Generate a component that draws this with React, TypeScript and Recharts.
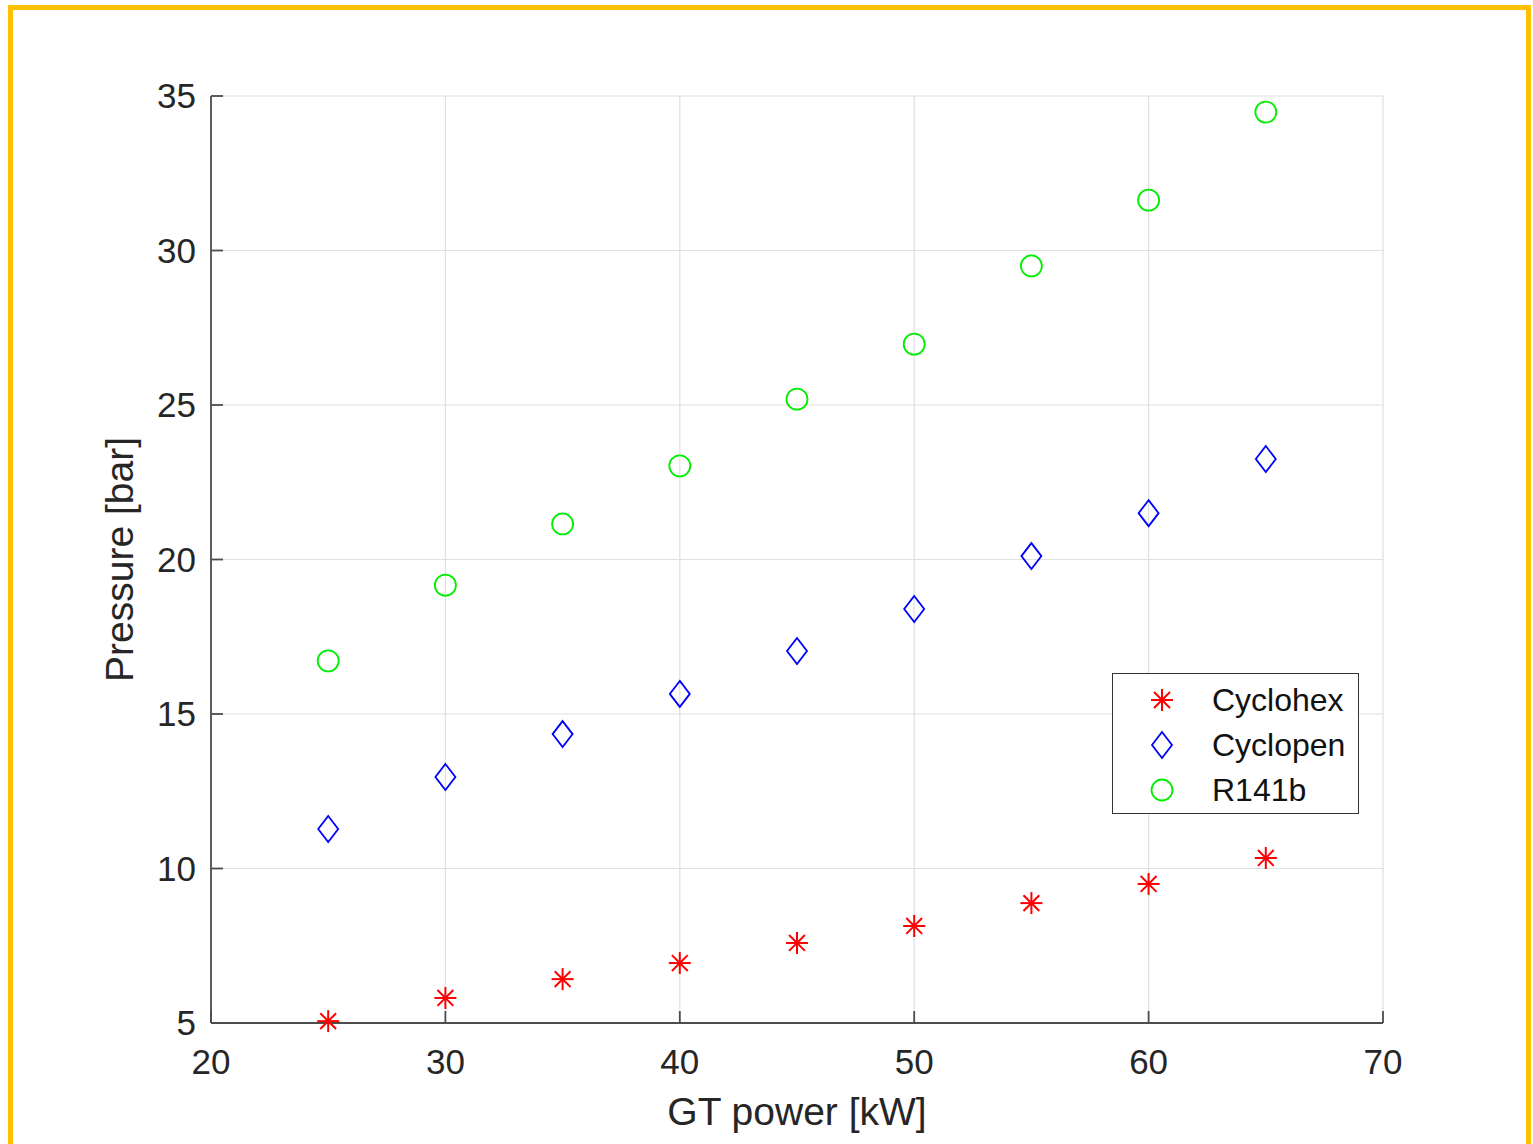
import React from "react";
import { ScatterChart, Scatter, XAxis, YAxis, CartesianGrid, Legend } from "recharts";

const gtPower = [25, 30, 35, 40, 45, 50, 55, 60, 65];
const cyclohex = [5.06, 5.81, 6.42, 6.94, 7.59, 8.14, 8.88, 9.5, 10.34];
const cyclopen = [11.28, 12.96, 14.35, 15.65, 17.04, 18.4, 20.11, 21.5, 23.25];
const r141b = [16.72, 19.17, 21.15, 23.03, 25.19, 26.97, 29.5, 31.63, 34.48];

const xTicks = [20, 30, 40, 50, 60, 70];
const yTicks = [5, 10, 15, 20, 25, 30, 35];

const FONT = '"Liberation Sans", Arial, Helvetica, sans-serif';
const AXIS = "#4d4d4d";
const TEXT = "#262626";

const toPoints = (ys: number[]) => gtPower.map((x, i) => ({ x, y: ys[i] }));

function Star({ cx, cy, r = 11 }: { cx: number; cy: number; r?: number }) {
  const d = r * 0.72;
  return (
    <g stroke="#ff0000" strokeWidth={2}>
      <line x1={cx} y1={cy - r} x2={cx} y2={cy + r} />
      <line x1={cx - r} y1={cy} x2={cx + r} y2={cy} />
      <line x1={cx - d} y1={cy - d} x2={cx + d} y2={cy + d} />
      <line x1={cx - d} y1={cy + d} x2={cx + d} y2={cy - d} />
    </g>
  );
}

function Diamond({ cx, cy }: { cx: number; cy: number }) {
  return (
    <polygon
      points={`${cx},${cy - 13} ${cx + 10},${cy} ${cx},${cy + 13} ${cx - 10},${cy}`}
      fill="none"
      stroke="#0000ff"
      strokeWidth={1.8}
    />
  );
}

function Ring({ cx, cy }: { cx: number; cy: number }) {
  return <circle cx={cx} cy={cy} r={10.5} fill="none" stroke="#00ee00" strokeWidth={1.8} />;
}

const legendItems = [
  { name: "Cyclohex", Mark: Star },
  { name: "Cyclopen", Mark: Diamond },
  { name: "R141b", Mark: Ring },
];

function LegendBox() {
  return (
    <div
      style={{
        width: 247,
        height: 141,
        border: "1.5px solid #333",
        background: "#fff",
        boxSizing: "border-box",
        fontFamily: FONT,
        fontSize: 32,
        color: "#111",
      }}
    >
      {legendItems.map(({ name, Mark }, i) => (
        <div key={name} style={{ position: "absolute", left: 0, top: 27 + i * 45 - 22, height: 44, display: "flex", alignItems: "center" }}>
          <svg width={100} height={44} style={{ display: "block" }}>
            <Mark cx={50} cy={22} />
          </svg>
          <span>{name}</span>
        </div>
      ))}
    </div>
  );
}

export default function App() {
  return (
    <div style={{ position: "absolute", left: 0, top: 0, width: 1533, height: 1144, background: "#fff", overflow: "hidden" }}>
      <div
        style={{
          position: "absolute",
          left: 8,
          top: 5,
          width: 1523,
          height: 1160,
          border: "5px solid #ffc000",
          boxSizing: "border-box",
        }}
      />
      <ScatterChart width={1533} height={1144} margin={{ top: 96, right: 150, bottom: 0, left: 131 }} style={{ fontFamily: FONT }}>
        <CartesianGrid stroke="#e0e0e0" strokeWidth={1.2} />
        <XAxis
          type="number"
          dataKey="x"
          domain={[20, 70]}
          ticks={xTicks}
          height={121}
          tickSize={-12}
          tickMargin={38}
          axisLine={{ stroke: AXIS, strokeWidth: 1.8 }}
          tickLine={{ stroke: AXIS, strokeWidth: 1.8 }}
          tick={{ fill: TEXT, fontSize: 35, fontFamily: FONT }}
          label={{ value: "GT power [kW]", position: "insideBottom", offset: 19, fill: TEXT, fontSize: 39, fontFamily: FONT }}
        />
        <YAxis
          type="number"
          dataKey="y"
          domain={[5, 35]}
          ticks={yTicks}
          width={80}
          tickSize={-12}
          tickMargin={27}
          axisLine={{ stroke: AXIS, strokeWidth: 1.8 }}
          tickLine={{ stroke: AXIS, strokeWidth: 1.8 }}
          tick={{ fill: TEXT, fontSize: 35, fontFamily: FONT }}
          label={{
            content: ({ viewBox }: any) => {
              const cy = viewBox.y + viewBox.height / 2;
              return (
                <text
                  transform={`translate(133, ${cy}) rotate(-90)`}
                  textAnchor="middle"
                  fill={TEXT}
                  fontSize={39}
                  fontFamily={FONT}
                >
                  Pressure [bar]
                </text>
              );
            },
          }}
        />
        <Legend
          layout="horizontal"
          verticalAlign="middle"
          align="center"
          content={() => <LegendBox />}
          wrapperStyle={{ left: 1112, top: 673, width: 247, height: 141 }}
        />
        <Scatter name="Cyclohex" data={toPoints(cyclohex)} shape={(p: any) => <Star cx={p.cx} cy={p.cy} />} isAnimationActive={false} />
        <Scatter name="Cyclopen" data={toPoints(cyclopen)} shape={(p: any) => <Diamond cx={p.cx} cy={p.cy} />} isAnimationActive={false} />
        <Scatter name="R141b" data={toPoints(r141b)} shape={(p: any) => <Ring cx={p.cx} cy={p.cy} />} isAnimationActive={false} />
      </ScatterChart>
    </div>
  );
}
